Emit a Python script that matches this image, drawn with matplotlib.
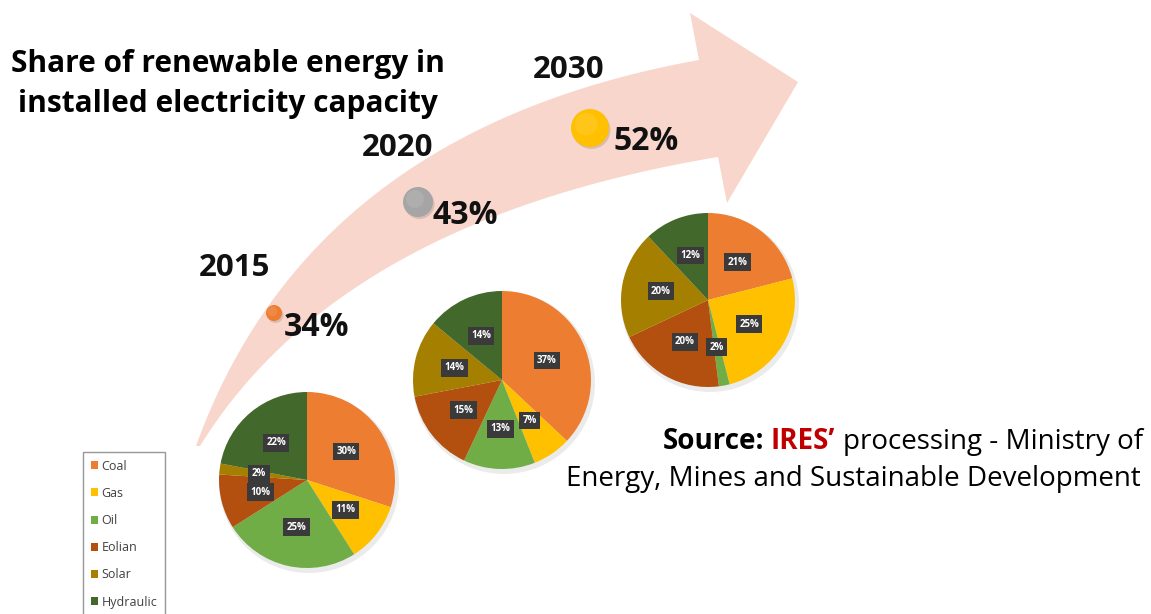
import numpy as np
import matplotlib
matplotlib.use("Agg")
import matplotlib.pyplot as plt
from matplotlib.patches import Polygon, Circle, Patch

plt.rcParams['font.family'] = ['Open Sans', 'DejaVu Sans']

# Data

years = ['2015', '2020', '2030']
renewable_share = [34, 43, 52]

sources = ['Coal', 'Gas', 'Oil', 'Eolian', 'Solar', 'Hydraulic']
mix_2015 = [30, 11, 25, 10, 2, 22]
mix_2020 = [37, 7, 13, 15, 14, 14]
mix_2030 = [21, 25, 2, 20, 20, 12]

colors = ['#ED7D31', '#FFC000', '#70AD47', '#B4500F', '#A57F00', '#43682B']
dot_colors = ['#ED7D31', '#A5A5A5', '#FFC000']

W, H = 1151, 614

def Y(y):
    # image row -> axes y (axes y goes up)
    return H - y

fig = plt.figure(figsize=(W / 100, H / 100), dpi=100)
ax = fig.add_axes([0, 0, 1, 1])

# Curved arrow

def bezier(p0, c, p2, n=80):
    t = np.linspace(0, 1, n)[:, None]
    return (1 - t)**2 * np.array(p0) + 2 * t * (1 - t) * np.array(c) + t**2 * np.array(p2)

upper = bezier((196, 446), (310, 130), (699, 60))
lower = bezier((200, 446), (340, 220), (718, 157))
head = np.array([(690, 13), (798, 82), (727, 203)])
pts = np.vstack([upper, head, lower[::-1]])
pts[:, 1] = H - pts[:, 1]
ax.add_patch(Polygon(pts, closed=True, facecolor='#F8D6CC', edgecolor='none', zorder=1))

# Dots, years and shares
dot_pos = [(274, 313), (418, 202), (590, 128)]
dot_r = [8, 15, 19]
year_pos = [(235, 268), (398, 148), (569, 70)]
share_pos = [(317, 328), (465, 215), (646, 142)]

for i in range(3):
    x, y = dot_pos[i]
    ax.add_patch(Circle((x + 1.5, Y(y) - 2), dot_r[i], facecolor='#000000', alpha=0.12,
                        edgecolor='none', zorder=2))
    ax.add_patch(Circle((x, Y(y)), dot_r[i], facecolor=dot_colors[i], edgecolor='none', zorder=3))
    ax.add_patch(Circle((x - dot_r[i] * 0.2, Y(y) + dot_r[i] * 0.2), dot_r[i] * 0.6,
                        facecolor='white', alpha=0.1, edgecolor='none', zorder=3))
    ax.text(year_pos[i][0], Y(year_pos[i][1]), years[i], fontsize=22.5, fontweight='bold',
            ha='center', va='center', color='#111111', zorder=4)
    ax.text(share_pos[i][0], Y(share_pos[i][1]), f"{renewable_share[i]}%", fontsize=23,
            fontweight='bold', ha='center', va='center', color='#111111', zorder=4)

# Pies
pie_data = [mix_2015, mix_2020, mix_2030]
pie_center = [(307, 480), (502, 380), (708, 300)]
pie_r = [88, 89, 87]

for i in range(3):
    cx, cy = pie_center[i]
    ax.add_patch(Circle((cx + 2, Y(cy) - 3), pie_r[i] + 2, facecolor='#000000', alpha=0.08,
                        edgecolor='none', zorder=4))
    wedges, texts, autotexts = ax.pie(pie_data[i], colors=colors, startangle=90, counterclock=False,
                                      center=(cx, Y(cy)), radius=pie_r[i], frame=True,
                                      autopct=lambda p: f"{p:.0f}%", pctdistance=0.55,
                                      wedgeprops=dict(linewidth=0),
                                      textprops=dict(color='white', fontsize=7, fontweight='bold'))
    for w in wedges:
        w.set_zorder(5)
    for t in autotexts:
        t.set_zorder(6)
        t.set_bbox(dict(boxstyle='square,pad=0.35', facecolor='#3A3A3A', edgecolor='none'))

ax.set_xlim(0, W)
ax.set_ylim(0, H)
ax.set_aspect('auto')
ax.axis('off')

# Legend
handles = [Patch(facecolor=c, edgecolor='none') for c in colors]
leg = fig.legend(handles, sources, loc='upper left', bbox_to_anchor=(83 / W, 1 - 452 / H),
                 fontsize=9, frameon=True, fancybox=False, edgecolor='#7F7F7F',
                 handlelength=0.6, handleheight=0.6, handletextpad=0.3, labelspacing=1.14,
                 borderpad=0.6, borderaxespad=0)
leg.get_frame().set_linewidth(1.0)
for t in leg.get_texts():
    t.set_color('#404040')

# Title
ax.text(228, Y(84), "Share of renewable energy in\ninstalled electricity capacity", fontsize=21.5,
        fontweight='bold', ha='center', va='center', color='#000000', linespacing=1.4)

# Source text, built from pieces
fig.canvas.draw()
renderer = fig.canvas.get_renderer()
fs = 20
t1 = ax.text(1143, Y(449), "processing - Ministry of", fontsize=fs, ha='right', va='baseline')
bb = t1.get_window_extent(renderer)
t2 = ax.text(bb.x0 - 8, Y(449), "IRES\u2019", fontsize=fs, fontweight='bold', color='#C00000',
             ha='right', va='baseline')
bb = t2.get_window_extent(renderer)
ax.text(bb.x0 - 6, Y(449), "Source:", fontsize=fs, fontweight='bold', ha='right', va='baseline')
ax.text(1141, Y(486), "Energy, Mines and Sustainable Development", fontsize=fs,
        ha='right', va='baseline')

plt.savefig("out.png", dpi=100)
